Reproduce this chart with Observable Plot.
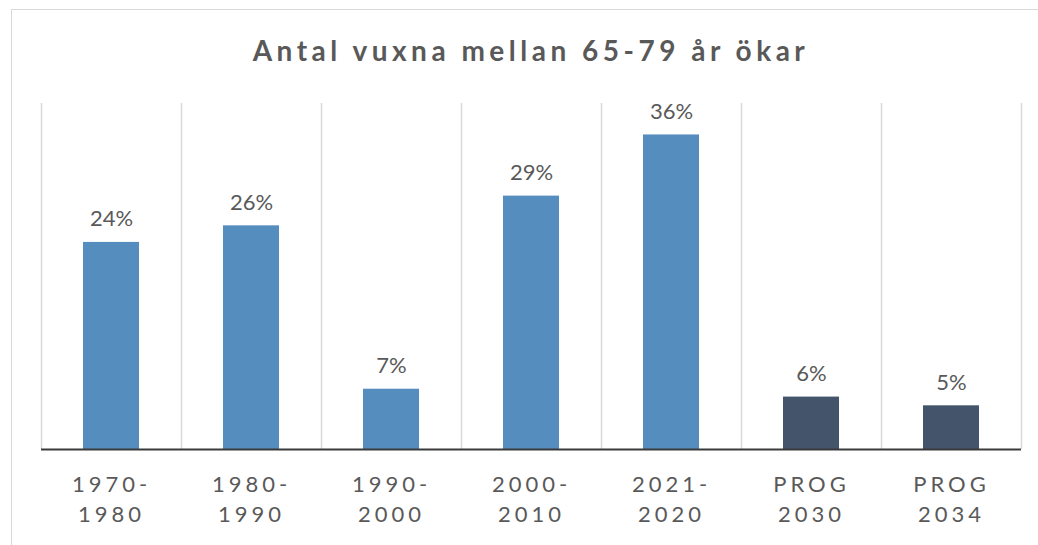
<!DOCTYPE html>
<html>
<head>
<meta charset="utf-8">
<script src="https://cdn.jsdelivr.net/npm/d3@7"></script>
<script src="https://cdn.jsdelivr.net/npm/@observablehq/plot@0.6"></script>
<style>
  html, body { margin: 0; padding: 0; background: #fff; }
  body { width: 1038px; height: 545px; position: relative; overflow: hidden; font-family: Lato, "Open Sans", sans-serif; }
  #frame { position: absolute; left: 11px; top: 9px; width: 1100px; height: 600px; border: 1.5px solid #d9d9d9; box-sizing: border-box; pointer-events: none; z-index: 2; }
  #title { box-sizing: border-box; height: 90px; padding: 36px 17px 0 41px; text-align: center; font-size: 28px; line-height: 28px; font-weight: bold; letter-spacing: 4.5px; color: #595959; white-space: nowrap; }
  #chart svg g[aria-label="x-axis tick label"] text { letter-spacing: 4px; }
</style>
</head>
<body>
<div id="frame"></div>
<div id="title">Antal vuxna mellan 65-79 år ökar</div>
<div id="chart"></div>
<script>
const categories = ["1970-\n1980", "1980-\n1990", "1990-\n2000", "2000-\n2010", "2021-\n2020", "PROG\n2030", "PROG\n2034"];
const values = [0.237, 0.256, 0.069, 0.29, 0.36, 0.06, 0.05];
const types = ["Utfall", "Utfall", "Utfall", "Utfall", "Utfall", "Prognos", "Prognos"];
const typeColors = ["#568dbf", "#44546a"];

const data = categories.map((c, i) => ({i, label: c, value: values[i], type: types[i]}));
const boundaries = d3.range(categories.length + 1).map(i => i - 0.5);
const yMax = 0.396;

const chart = Plot.plot({
  width: 1038,
  height: 455,
  marginTop: 13,
  marginBottom: 96,
  marginLeft: 41,
  marginRight: 17,
  style: {background: "transparent", fontFamily: "Lato, 'Open Sans', sans-serif", color: "#595959"},
  x: {type: "linear", domain: [-0.5, categories.length - 0.5], axis: null},
  y: {domain: [0, yMax], axis: null},
  color: {domain: ["Utfall", "Prognos"], range: typeColors},
  marks: [
    Plot.ruleX(boundaries, {x: d => d, y1: 0, y2: yMax, stroke: "#d9d9d9", strokeWidth: 1.5}),
    Plot.rectY(data, {x1: d => d.i - 0.2, x2: d => d.i + 0.2, y1: 0, y2: "value", fill: "type"}),
    Plot.ruleY([0], {stroke: "#3a3a3a", strokeWidth: 2}),
    Plot.text(data, {x: "i", y: "value", text: d => Math.round(d.value * 100) + "%", dy: -23, fontSize: 22, fill: "#595959"}),
    Plot.axisX({ticks: d3.range(categories.length), tickFormat: i => categories[i], tickSize: 0, tickPadding: 21, fontSize: 22, lineHeight: 1.36, fill: "#595959", label: null})
  ]
});
document.getElementById("chart").append(chart);
</script>
</body>
</html>
